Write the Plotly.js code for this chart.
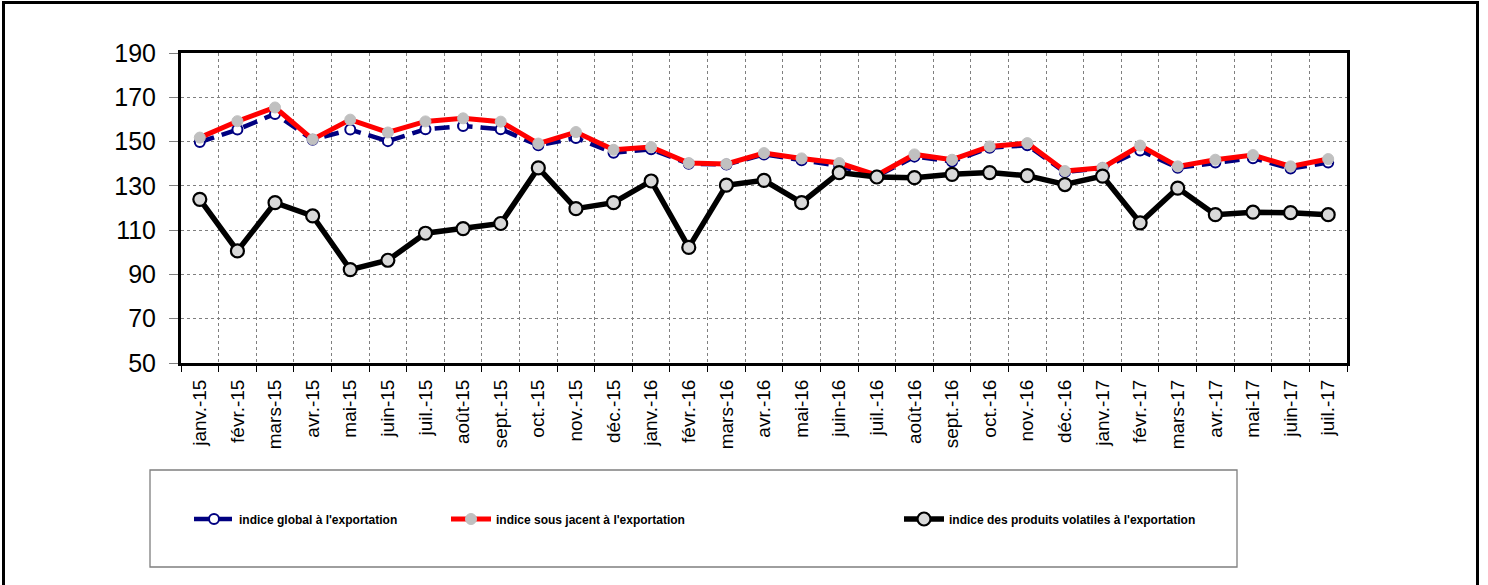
<!DOCTYPE html>
<html>
<head>
<meta charset="utf-8">
<script src="https://cdn.plot.ly/plotly-3.0.1.min.js"></script>
<style>
  html, body { margin: 0; padding: 0; background: #ffffff; }
  #wrap { position: relative; width: 1488px; height: 585px; overflow: hidden; }
  #chart { width: 1488px; height: 585px; }
  #frame { position: absolute; left: 2px; top: 1px; width: 1477px; height: 620px;
           box-sizing: border-box; border: 3px solid #000; pointer-events: none; }
</style>
</head>
<body>
<div id="wrap">
  <div id="chart"></div>
  <div id="frame"></div>
</div>
<script>
const months = ["janv.-15","févr.-15","mars-15","avr.-15","mai-15","juin-15","juil.-15","août-15","sept.-15","oct.-15","nov.-15","déc.-15",
                "janv.-16","févr.-16","mars-16","avr.-16","mai-16","juin-16","juil.-16","août-16","sept.-16","oct.-16","nov.-16","déc.-16",
                "janv.-17","févr.-17","mars-17","avr.-17","mai-17","juin-17","juil.-17"];

const indiceGlobal = [149.8,155.4,162.5,150.8,155.4,150.2,155.6,157.0,155.6,148.3,151.6,145.0,
                      146.5,140.0,139.6,144.2,141.6,139.0,134.3,143.2,141.0,147.2,148.3,136.2,
                      138.0,146.0,138.2,140.6,142.5,137.8,140.5];

const indiceSousJacent = [151.8,159.2,165.4,151.0,159.9,154.1,159.1,160.5,159.0,149.1,154.3,146.3,
                          147.5,140.3,139.9,144.8,142.4,140.3,134.8,144.2,141.8,147.8,149.3,136.7,
                          138.2,148.2,138.8,141.8,143.9,138.8,142.1];

const indiceVolatiles = [123.9,100.6,122.4,116.4,92.2,96.4,108.6,110.7,113.0,138.1,119.7,122.4,
                         132.2,102.2,130.3,132.5,122.4,136.0,134.0,133.7,135.2,136.0,134.6,130.6,
                         134.4,113.3,129.0,117.0,118.1,117.9,117.0];

const seriesNames = ["indice global à l'exportation",
                     "indice sous jacent à l'exportation",
                     "indice des produits volatiles à l'exportation"];

const yTicks = [50,70,90,110,130,150,170,190];

const traces = [
  {
    x: months, y: indiceGlobal, name: seriesNames[0], type: "scatter", mode: "lines+markers",
    line: { color: "#000080", width: 4.5, dash: "15px,8px" },
    marker: { symbol: "circle", size: 10, color: "#ffffff", line: { color: "#000080", width: 2 } },
    legend: "legend"
  },
  {
    x: months, y: indiceSousJacent, name: seriesNames[1], type: "scatter", mode: "lines+markers",
    line: { color: "#ff0000", width: 5 },
    marker: { symbol: "circle", size: 11, color: "#c0c0c0", line: { color: "#c0c0c0", width: 1 } },
    legend: "legend2"
  },
  {
    x: months, y: indiceVolatiles, name: seriesNames[2], type: "scatter", mode: "lines+markers",
    line: { color: "#000000", width: 5.5 },
    marker: { symbol: "circle", size: 13, color: "#d9d9d9", line: { color: "#000000", width: 2.2 } },
    legend: "legend3"
  }
];

// plot area pixel geometry helpers (margins)
const L = 181, R = 141, T = 53, B = 222, W = 1488, H = 585;
const pw = W - L - R, ph = H - T - B;
const px = v => (v - L) / pw;
const py = v => (H - B - v) / ph;

const legendFont = { family: "Liberation Sans, Arial, sans-serif", size: 12, color: "#000000", weight: "bold" };
const legendBase = { orientation: "h", bgcolor: "rgba(0,0,0,0)", borderwidth: 0, font: legendFont,
                     xanchor: "left", yanchor: "middle", xref: "paper", yref: "paper", itemwidth: 40 };

const layout = {
  width: W, height: H,
  margin: { l: L, r: R, t: T, b: B, pad: 0 },
  paper_bgcolor: "#ffffff", plot_bgcolor: "#ffffff",
  font: { family: "Liberation Sans, Arial, sans-serif", color: "#000000" },
  showlegend: true,
  xaxis: {
    type: "category", tickson: "boundaries", range: [-0.5, months.length - 0.5], autorange: false,
    ticks: "outside", ticklen: 6, tickwidth: 1, tickcolor: "#000000",
    tickangle: -90, ticklabelstandoff: 6,
    tickfont: { size: 19, family: "Liberation Sans, Arial, sans-serif", color: "#000000" },
    showline: true, linecolor: "#000000", linewidth: 3, mirror: true,
    showgrid: true, gridcolor: "#7f7f7f", gridwidth: 1, griddash: "dot",
    fixedrange: true
  },
  yaxis: {
    range: [50, 190], autorange: false, tickvals: yTicks, ticktext: yTicks.map(String),
    ticks: "outside", ticklen: 9, tickwidth: 1, tickcolor: "#7f7f7f",
    ticklabelstandoff: 8,
    tickfont: { size: 25, family: "Liberation Sans, Arial, sans-serif", color: "#000000" },
    showline: true, linecolor: "#000000", linewidth: 3, mirror: true,
    showgrid: true, gridcolor: "#7f7f7f", gridwidth: 1, griddash: "dot",
    zeroline: false, fixedrange: true
  },
  legend:  Object.assign({}, legendBase, { x: px(189), y: py(519) }),
  legend2: Object.assign({}, legendBase, { x: px(446), y: py(519) }),
  legend3: Object.assign({}, legendBase, { x: px(899), y: py(519) }),
  shapes: [
    { type: "rect", xref: "paper", yref: "paper",
      x0: px(150), x1: px(1237), y0: py(567), y1: py(470),
      line: { color: "#7f7f7f", width: 1.3 }, fillcolor: "rgba(0,0,0,0)", layer: "below" }
  ]
};

Plotly.newPlot("chart", traces, layout, { displayModeBar: false, staticPlot: true });
</script>
</body>
</html>
